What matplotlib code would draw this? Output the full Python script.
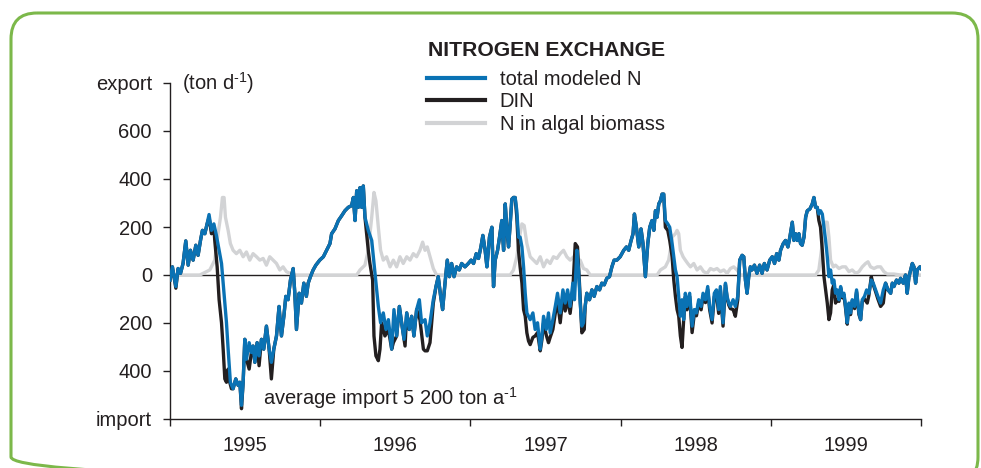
import numpy as np
import matplotlib
matplotlib.use("Agg")
import matplotlib.pyplot as plt
from matplotlib.patches import FancyBboxPatch

plt.rcParams['font.family'] = ['Liberation Sans', 'DejaVu Sans']
plt.rcParams['mathtext.fontset'] = 'custom'
plt.rcParams['mathtext.rm'] = 'Liberation Sans'
plt.rcParams['mathtext.default'] = 'regular'

# total modeled N (ton/d)
total_t = [1995.000, 1995.016, 1995.039, 1995.054, 1995.070, 1995.087, 1995.105, 1995.121, 1995.136, 1995.154,
           1995.172, 1995.187, 1995.203, 1995.216, 1995.232, 1995.247, 1995.260, 1995.276, 1995.292, 1995.309,
           1995.327, 1995.343, 1995.354, 1995.376, 1995.387, 1995.402, 1995.420, 1995.438, 1995.454, 1995.465,
           1995.476, 1995.487, 1995.498, 1995.509, 1995.527, 1995.542, 1995.553, 1995.565, 1995.580, 1995.593,
           1995.609, 1995.624, 1995.642, 1995.660, 1995.675, 1995.691, 1995.709, 1995.726, 1995.742, 1995.758,
           1995.771, 1995.786, 1995.802, 1995.820, 1995.831, 1995.842, 1995.860, 1995.875, 1995.891, 1995.908,
           1995.920, 1995.935, 1995.953, 1995.971, 1995.997,
           1996.021, 1996.043, 1996.065, 1996.076, 1996.098, 1996.121, 1996.143, 1996.165, 1996.187, 1996.209,
           1996.221, 1996.232, 1996.243, 1996.254, 1996.265, 1996.276, 1996.287, 1996.298, 1996.320, 1996.343,
           1996.365, 1996.387, 1996.402, 1996.420, 1996.438, 1996.454, 1996.476, 1996.491, 1996.509, 1996.527,
           1996.542, 1996.558, 1996.576, 1996.593, 1996.609, 1996.624, 1996.642, 1996.660, 1996.675, 1996.698,
           1996.713, 1996.731, 1996.753, 1996.771, 1996.786, 1996.802, 1996.815, 1996.831, 1996.846, 1996.860,
           1996.875, 1996.891, 1996.908, 1996.926, 1996.942, 1996.964, 1996.986,
           1997.005, 1997.021, 1997.039, 1997.054, 1997.070, 1997.083, 1997.098, 1997.110, 1997.127, 1997.143,
           1997.154, 1997.165, 1997.181, 1997.194, 1997.209, 1997.221, 1997.232, 1997.243, 1997.254, 1997.265,
           1997.276, 1997.287, 1997.298, 1997.309, 1997.320, 1997.331, 1997.343, 1997.354, 1997.365, 1997.376,
           1997.398, 1997.416, 1997.431, 1997.447, 1997.465, 1997.476, 1997.487, 1997.505, 1997.520, 1997.531,
           1997.549, 1997.565, 1997.580, 1997.598, 1997.616, 1997.631, 1997.647, 1997.664, 1997.682, 1997.693,
           1997.709, 1997.720, 1997.731, 1997.742, 1997.753, 1997.764, 1997.775, 1997.793, 1997.809, 1997.824,
           1997.842, 1997.860, 1997.875, 1997.891, 1997.908, 1997.926, 1997.942, 1997.957, 1997.975, 1997.997,
           1998.021, 1998.039, 1998.054, 1998.070, 1998.083, 1998.092, 1998.105, 1998.121, 1998.136, 1998.149,
           1998.165, 1998.181, 1998.194, 1998.209, 1998.221, 1998.232, 1998.243, 1998.254, 1998.265, 1998.276,
           1998.287, 1998.298, 1998.314, 1998.327, 1998.343, 1998.354, 1998.365, 1998.376, 1998.387, 1998.398,
           1998.409, 1998.420, 1998.431, 1998.442, 1998.460, 1998.476, 1998.491, 1998.505, 1998.520, 1998.536,
           1998.549, 1998.565, 1998.580, 1998.593, 1998.609, 1998.624, 1998.638, 1998.653, 1998.664, 1998.682,
           1998.698, 1998.709, 1998.720, 1998.731, 1998.749, 1998.764, 1998.780, 1998.793, 1998.809, 1998.820,
           1998.831, 1998.842, 1998.853, 1998.864, 1998.875, 1998.891, 1998.908, 1998.926, 1998.942, 1998.957,
           1998.975, 1998.993,
           1999.010, 1999.025, 1999.039, 1999.054, 1999.065, 1999.083, 1999.098, 1999.114, 1999.127, 1999.143,
           1999.154, 1999.165, 1999.176, 1999.187, 1999.198, 1999.209, 1999.221, 1999.232, 1999.243, 1999.260,
           1999.276, 1999.287, 1999.298, 1999.309, 1999.320, 1999.331, 1999.343, 1999.354, 1999.365, 1999.376,
           1999.387, 1999.398, 1999.409, 1999.420, 1999.431, 1999.442, 1999.454, 1999.465, 1999.476, 1999.487,
           1999.498, 1999.509, 1999.520, 1999.531, 1999.542, 1999.558, 1999.571, 1999.587, 1999.598, 1999.609,
           1999.624, 1999.638, 1999.653, 1999.669, 1999.682, 1999.698, 1999.713, 1999.731, 1999.749, 1999.764,
           1999.780, 1999.798, 1999.809, 1999.820, 1999.837, 1999.853, 1999.864, 1999.882, 1999.897, 1999.908,
           1999.920, 1999.931, 1999.942, 1999.953, 1999.964, 1999.975, 1999.993, 2000.000]
total_v = [-21, 34, -48, 27, 7, 48, 142, 41, 103, 62,
           124, 82, 144, 186, 172, 213, 252, 186, 213, 165,
           103, 48, -34, -199, -309, -447, -474, -433, -460, -447,
           -543, -447, -268, -351, -282, -323, -296, -364, -282, -337,
           -268, -309, -213, -309, -364, -309, -254, -131, -254, -172,
           -89, -103, -21, 27, -76, -227, -76, -117, -34, -89,
           -34, -7, 21, 41, 62,
           76, 103, 131, 172, 192, 227, 247, 268, 282, 289,
           323, 227, 351, 282, 364, 282, 371, 241, 186, 144,
           7, -131, -199, -158, -227, -186, -309, -144, -254, -131,
           -199, -268, -158, -227, -172, -254, -144, -103, -199, -186,
           -254, -199, -103, -48, -7, -89, -144, -34, 62, -7,
           48, -7, 34, 21, 48, 34, 48,
           62, 48, 89, 69, 117, 165, 103, 34, 158, 199,
           -48, 62, 103, 158, 227, 103, 296, 186, 117, 213,
           316, 323, 323, 268, 158, 158, 117, 34, -76, -158,
           -186, -158, -227, -199, -309, -254, -172, -227, -158, -241,
           -186, -131, -76, -158, -62, -117, -62, -131, -34, -103,
           103, 21, -117, -213, -199, -131, -76, -103, -62, -89,
           -48, -62, -34, -41, -14, -7, 34, 62, 62, 76,
           103, 117, 103, 144, 172, 254, 199, 117, 192, 131,
           -7, 131, 199, 227, 186, 268, 241, 296, 309, 337,
           337, 227, 213, 199, 131, 76, 21, -7, -89, -172,
           -103, -186, -76, -131, -76, -213, -144, -158, -103, -131,
           -76, -103, -48, -131, -186, -76, -62, -144, -48, -199,
           -34, -89, -117, -131, -103, -131, -89, 62, 82, 76,
           -21, -76, -7, 34, 21, 41, 7, 41, 7, 48,
           21, 62,
           76, 48, 89, 62, 103, 131, 144, 117, 158, 220,
           144, 172, 144, 172, 131, 124, 158, 241, 268, 275,
           296, 323, 282, 282, 254, 268, 254, 199, 144, 76,
           -7, 21, -34, -21, -76, -62, -103, -48, -89, -76,
           -131, -199, -117, -158, -103, -131, -62, -158, -186, -103,
           -89, -62, -76, -21, -34, -62, -89, -117, -62, -34,
           -62, -76, -34, -48, -21, -34, -14, -34, 0, -76,
           -7, 21, 48, 34, -34, 21, 34, 27]

# DIN (ton/d)
din_t = [1995.000, 1995.016, 1995.039, 1995.054, 1995.070, 1995.087, 1995.105, 1995.121, 1995.136, 1995.154,
         1995.172, 1995.187, 1995.203, 1995.216, 1995.232, 1995.247, 1995.260, 1995.276, 1995.292, 1995.298,
         1995.314, 1995.327, 1995.343, 1995.354, 1995.365, 1995.376, 1995.387, 1995.398, 1995.409, 1995.420,
         1995.438, 1995.454, 1995.465, 1995.476, 1995.487, 1995.498, 1995.509, 1995.527, 1995.542, 1995.553,
         1995.565, 1995.580, 1995.593, 1995.609, 1995.624, 1995.642, 1995.660, 1995.675, 1995.691, 1995.709,
         1995.726, 1995.742, 1995.758, 1995.771, 1995.786, 1995.802, 1995.820, 1995.831, 1995.842, 1995.860,
         1995.875, 1995.891, 1995.908, 1995.920, 1995.935, 1995.953, 1995.971, 1995.997,
         1996.021, 1996.043, 1996.065, 1996.076, 1996.098, 1996.121, 1996.143, 1996.165, 1996.187, 1996.209,
         1996.221, 1996.232, 1996.243, 1996.254, 1996.265, 1996.276, 1996.287, 1996.298, 1996.320, 1996.331,
         1996.349, 1996.358, 1996.371, 1996.387, 1996.398, 1996.409, 1996.431, 1996.454, 1996.476, 1996.487,
         1996.509, 1996.527, 1996.542, 1996.565, 1996.576, 1996.593, 1996.609, 1996.624, 1996.642, 1996.664,
         1996.687, 1996.698, 1996.713, 1996.731, 1996.753, 1996.771, 1996.786, 1996.802, 1996.815, 1996.831,
         1996.846, 1996.860, 1996.875, 1996.891, 1996.908, 1996.926, 1996.942, 1996.964, 1996.986,
         1997.005, 1997.021, 1997.039, 1997.054, 1997.070, 1997.083, 1997.098, 1997.110, 1997.127, 1997.143,
         1997.154, 1997.165, 1997.181, 1997.194, 1997.209, 1997.221, 1997.232, 1997.243, 1997.254, 1997.265,
         1997.276, 1997.287, 1997.298, 1997.309, 1997.320, 1997.331, 1997.343, 1997.354, 1997.365, 1997.376,
         1997.387, 1997.398, 1997.416, 1997.431, 1997.447, 1997.465, 1997.476, 1997.487, 1997.505, 1997.520,
         1997.531, 1997.549, 1997.565, 1997.580, 1997.598, 1997.616, 1997.631, 1997.647, 1997.664, 1997.682,
         1997.698, 1997.713, 1997.726, 1997.742, 1997.758, 1997.764, 1997.775, 1997.793, 1997.809, 1997.824,
         1997.842, 1997.860, 1997.875, 1997.891, 1997.908, 1997.926, 1997.942, 1997.957, 1997.975, 1997.997,
         1998.021, 1998.039, 1998.054, 1998.070, 1998.083, 1998.092, 1998.105, 1998.121, 1998.136, 1998.149,
         1998.165, 1998.181, 1998.194, 1998.209, 1998.221, 1998.232, 1998.243, 1998.254, 1998.265, 1998.276,
         1998.287, 1998.298, 1998.314, 1998.327, 1998.343, 1998.354, 1998.365, 1998.376, 1998.387, 1998.398,
         1998.409, 1998.420, 1998.431, 1998.442, 1998.460, 1998.476, 1998.491, 1998.505, 1998.520, 1998.536,
         1998.549, 1998.565, 1998.580, 1998.593, 1998.609, 1998.624, 1998.638, 1998.653, 1998.664, 1998.682,
         1998.698, 1998.709, 1998.720, 1998.731, 1998.749, 1998.764, 1998.780, 1998.793, 1998.809, 1998.820,
         1998.831, 1998.842, 1998.853, 1998.864, 1998.875, 1998.891, 1998.908, 1998.926, 1998.942, 1998.957,
         1998.975, 1998.993,
         1999.010, 1999.025, 1999.039, 1999.054, 1999.065, 1999.083, 1999.098, 1999.114, 1999.127, 1999.143,
         1999.154, 1999.165, 1999.176, 1999.187, 1999.198, 1999.209, 1999.221, 1999.232, 1999.243, 1999.260,
         1999.276, 1999.287, 1999.298, 1999.309, 1999.320, 1999.331, 1999.343, 1999.354, 1999.365, 1999.376,
         1999.387, 1999.398, 1999.409, 1999.420, 1999.431, 1999.442, 1999.454, 1999.465, 1999.476, 1999.487,
         1999.498, 1999.509, 1999.520, 1999.531, 1999.542, 1999.558, 1999.571, 1999.587, 1999.598, 1999.609,
         1999.624, 1999.642, 1999.653, 1999.669, 1999.682, 1999.698, 1999.713, 1999.731, 1999.749, 1999.764,
         1999.780, 1999.798, 1999.809, 1999.820, 1999.837, 1999.853, 1999.864, 1999.882, 1999.897, 1999.908,
         1999.920, 1999.931, 1999.942, 1999.953, 1999.964, 1999.975, 1999.993, 2000.000]
din_v = [-21, 34, -55, 27, 7, 48, 142, 41, 103, 62,
         124, 82, 144, 186, 172, 213, 240, 172, 200, 144,
         34, -103, -199, -309, -433, -447, -392, -447, -474, -474,
         -433, -460, -447, -557, -447, -268, -351, -392, -323, -296,
         -364, -282, -378, -268, -309, -213, -309, -433, -309, -254,
         -131, -254, -172, -89, -103, -21, 27, -76, -227, -76,
         -117, -34, -89, -34, -7, 21, 41, 62,
         76, 103, 131, 172, 192, 227, 247, 268, 282, 289,
         323, 227, 351, 282, 364, 282, 371, 241, 103, 48,
         -21, -254, -337, -357, -309, -199, -254, -227, -309, -282,
         -254, -131, -199, -296, -158, -227, -172, -254, -144, -186,
         -309, -316, -316, -282, -117, -48, -7, -89, -144, -34,
         62, -7, 48, -7, 34, 21, 48, 34, 48,
         62, 48, 89, 69, 117, 165, 103, 34, 158, 199,
         -48, 62, 103, 158, 227, 103, 296, 186, 117, 213,
         316, 323, 323, 241, 103, 34, -34, -144, -172, -241,
         -275, -290, -260, -254, -240, -316, -270, -200, -250, -282,
         -260, -227, -160, -110, -199, -90, -150, -100, -160, -60,
         131, 117, -34, -241, -227, -131, -76, -103, -62, -89,
         -48, -62, -34, -41, -14, -7, 34, 62, 62, 76,
         103, 117, 103, 144, 172, 254, 199, 117, 192, 131,
         -7, 131, 199, 227, 186, 268, 241, 296, 309, 337,
         337, 199, 186, 144, 76, -21, -89, -144, -172, -254,
         -302, -186, -90, -145, -90, -240, -160, -170, -115, -145,
         -90, -115, -60, -145, -200, -90, -75, -160, -60, -213,
         -40, -95, -125, -140, -144, -172, -103, 62, 82, 76,
         -21, -76, -7, 34, 21, 41, 7, 41, 7, 48,
         21, 62,
         76, 48, 89, 62, 103, 131, 144, 117, 158, 220,
         144, 172, 144, 172, 131, 124, 158, 241, 268, 275,
         296, 323, 282, 282, 227, 199, 103, -7, -62, -117,
         -186, -158, -62, -40, -117, -103, -110, -55, -95, -85,
         -140, -205, -125, -165, -110, -140, -70, -165, -186, -110,
         -100, -117, -85, -7, -40, -70, -100, -131, -117, -34,
         -62, -76, -34, -48, -21, -34, -14, -34, 0, -76,
         -7, 21, 48, 34, -34, 21, 34, 27]

# N in algal biomass (ton/d)
algal_t = [1995.000, 1995.198, 1995.221, 1995.265, 1995.298, 1995.320, 1995.336, 1995.349, 1995.360, 1995.369,
           1995.387, 1995.402, 1995.420, 1995.442, 1995.465, 1995.487, 1995.509, 1995.531, 1995.553, 1995.576,
           1995.598, 1995.620, 1995.642, 1995.664, 1995.687, 1995.709, 1995.731, 1995.753, 1995.775, 1995.798,
           1995.820,
           1996.243, 1996.265, 1996.298, 1996.320, 1996.343, 1996.358, 1996.371, 1996.387, 1996.402, 1996.420,
           1996.442, 1996.465, 1996.487, 1996.509, 1996.531, 1996.553, 1996.576, 1996.598, 1996.620, 1996.642,
           1996.664, 1996.682, 1996.698, 1996.713, 1996.731, 1996.753, 1996.775,
           1997.265, 1997.287, 1997.309, 1997.327, 1997.343, 1997.358, 1997.376, 1997.398, 1997.420, 1997.442,
           1997.465, 1997.487, 1997.509, 1997.531, 1997.553, 1997.576, 1997.598, 1997.620, 1997.642, 1997.664,
           1997.687, 1997.709, 1997.731, 1997.753, 1997.775, 1997.798,
           1998.243, 1998.265, 1998.298, 1998.320, 1998.331, 1998.343, 1998.365, 1998.376, 1998.387, 1998.398,
           1998.416, 1998.431, 1998.447, 1998.465, 1998.487, 1998.509, 1998.531, 1998.553, 1998.576, 1998.598,
           1998.620, 1998.642, 1998.664, 1998.687, 1998.709, 1998.731, 1998.753, 1998.775, 1998.798,
           1999.298, 1999.320, 1999.343, 1999.358, 1999.376, 1999.387, 1999.398, 1999.416, 1999.431, 1999.454,
           1999.476, 1999.498, 1999.520, 1999.542, 1999.565, 1999.587, 1999.609, 1999.631, 1999.647, 1999.664,
           1999.687, 1999.709, 1999.731, 1999.753, 1999.775, 1999.820, 1999.864, 2000.000]
algal_v = [0, 0, 7, 21, 62, 172, 241, 323, 323, 241,
           186, 131, 103, 89, 103, 76, 96, 62, 89, 76,
           62, 69, 41, 76, 62, 48, 21, 34, 14, 7,
           0,
           0, 21, 41, 103, 241, 344, 309, 199, 103, 62,
           76, 34, 62, 34, 76, 48, 76, 62, 89, 76,
           103, 137, 103, 117, 76, 27, 0,
           0, 21, 76, 158, 213, 206, 131, 76, 62, 48,
           76, 34, 62, 48, 76, 69, 89, 103, 76, 62,
           76, 48, 62, 27, 21, 0,
           0, 21, 34, 62, 103, 158, 172, 186, 172, 103,
           76, 62, 48, 34, 48, 21, 34, 14, 7, 27,
           21, 27, 14, 21, 7, 27, 34, 21, 0,
           0, 21, 131, 220, 220, 158, 62, 34, 41, 27,
           34, 34, 14, 21, 7, 14, 34, 48, 55, 34,
           27, 34, 34, 14, 4, 4, 0, 0]

years = [1995, 1996, 1997, 1998, 1999]
ytick_vals = [-600, -400, -200, 0, 200, 400, 600, 800]
ytick_labels = ['import', '400', '200', '0', '200', '400', '600', 'export']

W, H = 981, 468
fig = plt.figure(figsize=(W / 100, H / 100), dpi=100)

# green rounded frame, drawn in pixel units
bg = fig.add_axes([0, 0, 1, 1], zorder=0)
bg.set_xlim(0, W)
bg.set_ylim(H, 0)
bg.axis('off')
bg.add_patch(FancyBboxPatch((11, 13), 967, 470, boxstyle='round,pad=0,rounding_size=26',
                            fill=False, edgecolor='#7cb84a', linewidth=2.2))

ax = fig.add_axes([170 / W, 1 - 419 / H, (921 - 170) / W, (419 - 83) / H], zorder=1)
ax.patch.set_alpha(0)

ink = '#231f20'
ax.axhline(0, color=ink, lw=1.0, zorder=1)
l_alg, = ax.plot(algal_t, algal_v, color='#d2d3d5', lw=2.4, zorder=2, solid_joinstyle='round')
l_din, = ax.plot(din_t, din_v, color=ink, lw=2.4, zorder=3, solid_joinstyle='round')
l_tot, = ax.plot(total_t, total_v, color='#0a72b4', lw=2.4, zorder=4, solid_joinstyle='round')

ax.set_xlim(1995, 2000)
ax.set_ylim(-600, 800)
for s in ['top', 'right']:
    ax.spines[s].set_visible(False)
for s in ['left', 'bottom']:
    ax.spines[s].set_linewidth(1.0)
    ax.spines[s].set_color(ink)

ax.set_yticks(ytick_vals)
ax.set_yticklabels(ytick_labels)
ax.tick_params(axis='y', direction='out', length=5, width=1, pad=8, labelsize=14.5, colors=ink)

ax.set_xticks(years + [2000])
ax.set_xticklabels([])
ax.set_xticks([y + 0.5 for y in years], minor=True)
ax.set_xticklabels([str(y) for y in years], minor=True)
ax.tick_params(axis='x', which='major', direction='out', length=5, width=1, colors=ink)
ax.tick_params(axis='x', which='minor', length=0, pad=12, labelsize=14.5, labelcolor=ink)

fig.text(182 / W, 1 - 90 / H, r'(ton d$^{\text{-1}}$)', fontsize=14.5, color=ink, va='baseline')
fig.text(263 / W, 1 - 405 / H, r'average import 5 200 ton a$^{\text{-1}}$', fontsize=14.5, color=ink,
         va='baseline')

fig.text(428 / W, 1 - 50 / H, 'NITROGEN EXCHANGE', fontsize=15.2, fontweight='bold', color=ink, va='center')
leg = ax.legend([l_tot, l_din, l_alg], ['total modeled N', 'DIN', 'N in algal biomass'],
                loc='upper left', bbox_to_anchor=(427 / W, 1 - 70 / H), bbox_transform=fig.transFigure,
                frameon=False, borderpad=0, borderaxespad=0, handlelength=2.9, handletextpad=0.7,
                labelspacing=0.17, fontsize=14.5)
for t in leg.get_texts():
    t.set_color(ink)
for h in leg.legend_handles:
    h.set_linewidth(3.0)

fig.savefig('out.png', dpi=100)
